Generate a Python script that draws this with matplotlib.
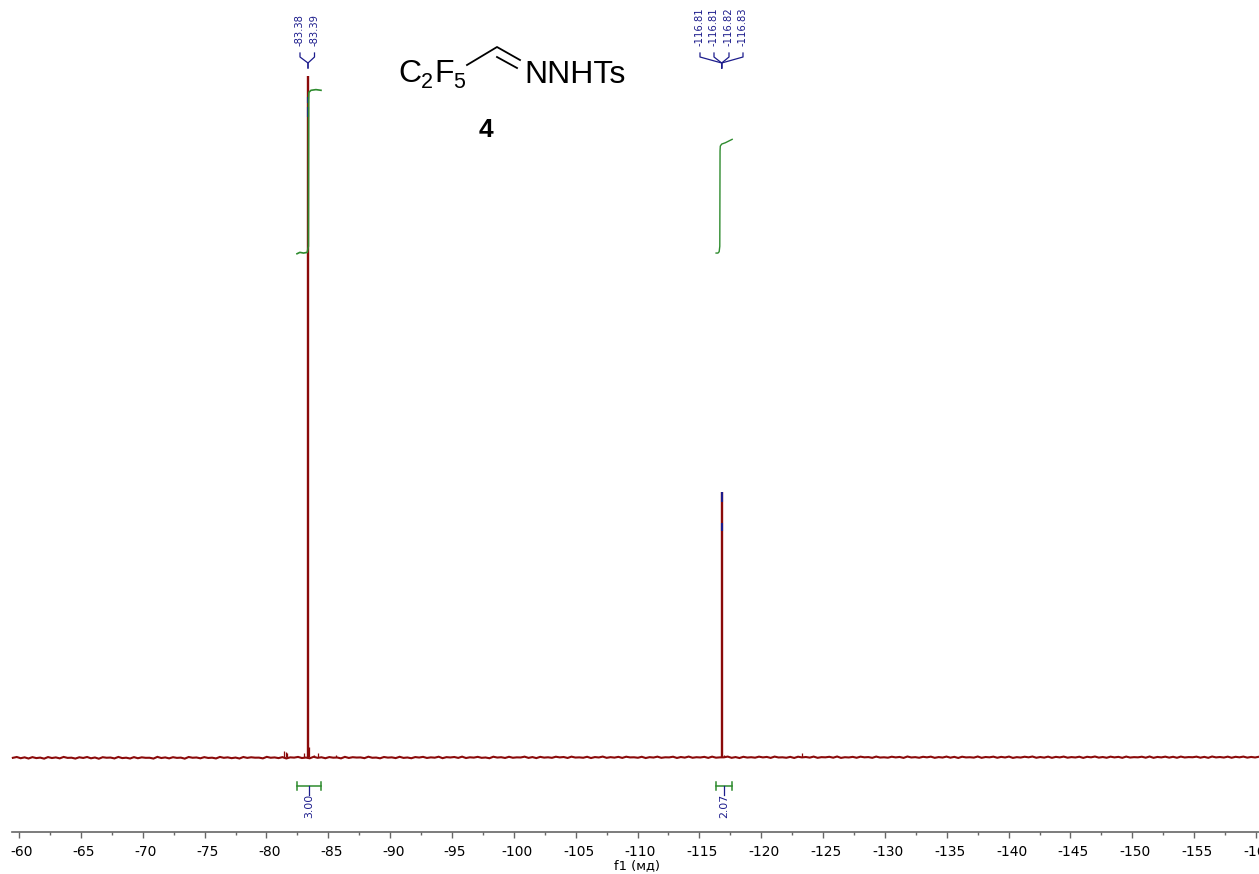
import matplotlib
matplotlib.use('Agg')
import matplotlib.pyplot as plt
from matplotlib.lines import Line2D
from matplotlib.transforms import Affine2D, ScaledTranslation
import numpy as np

# baseline of the 19F spectrum (left to right)
noise = [-.12, .00, -.18, -.05, -.22, -.02, -.16, -.09, -.24, -.01, -.15, -.06, -.20, .01, -.13, -.10,
         -.23, -.04, -.14, .00, -.19, -.07, -.25, -.03, -.11, -.08, -.21, .01, -.16, -.10, -.22, -.02,
         -.18, -.05, -.12, -.11, -.23, .02, -.15, -.06, -.20, -.03, -.13, -.09, -.24, .00, -.11, -.07,
         -.19, -.02, -.14, -.10, -.21, .01, -.12, -.05, -.17, -.08, -.22, .00, -.13, -.04, -.10, -.09,
         -.20, .02, -.11, -.06, -.16, -.02, -.21, -.05, -.09, .01, -.15, -.08, -.19, .03, -.12, -.04,
         -.18, -.01, -.10, -.07, -.20, .02, -.14, -.03, -.08, -.06, -.17, .04, -.11, -.08, -.19, .00,
         -.09, -.05, -.16, .03, -.13, -.07, -.18, -.01, -.08, .02, -.14, -.05, -.10, .04, -.17, -.02,
         -.07, .00, -.13, .05, -.15, -.04, -.09, .02, -.12, -.07, -.18, .04, -.08, -.03, -.14, .03,
         -.11, -.05, -.07, .05, -.13, -.01, -.16, .02, -.09, -.04, -.12, .04, -.06, .00, -.14, .05,
         -.08, -.05, -.11, .03, -.15, -.01, -.07, .06, -.12, -.02, -.09, .02, -.13, .04, -.06, -.04,
         -.11, .03, -.15, -.02, -.08, .05, -.12, -.04, -.06, .04, -.14, .00, -.09, .06, -.11, -.03,
         -.07, .02, -.13, .05, -.10, -.05, -.05, .06, -.12, -.01, -.15, .03, -.08, -.03, -.10, .05,
         -.06, .01, -.13, .06, -.07, -.04, -.11, .02, -.14, .04, -.06, .00, -.09, .06, -.12, -.02,
         -.05, .03, -.10, .07, -.13, -.03, -.07, .02, -.11, .05, -.05, -.01, -.12, .06, -.08, -.04,
         -.10, .04, -.06, .01, -.13, .07, -.07, -.02, -.11, .03, -.05, .05, -.12, -.01, -.08, .06,
         -.10, .02, -.14, .04, -.06, -.03, -.09, .07, -.12, .00, -.05, .05, -.11, .02, -.07, .06,
         -.13, -.02, -.08, .04, -.05, .07, -.11, .00, -.09, .05, -.12, .02, -.06, .06, -.10, -.01,
         -.07, .04, -.13, .03, -.05, .07, -.09, .00, -.11, .05, -.06, .02, -.12, .06, -.08, -.02,
         -.05, .04, -.10, .07, -.12, .01, -.06, .05, -.09, .03, -.11, .06, -.07, -.01, -.04, .05,
         -.10, .02, -.12, .07, -.06, .00, -.08, .05, -.11, .03, -.05, .06, -.09, .01, -.07, .04]
noise_ppm = np.linspace(-59.5, -160.24, len(noise))

peak_ppm = [-83.385, -116.82]
peak_height = [100, 38.9]
small_ppm = [-81.45, -81.6, -81.7, -83.0, -83.47, -83.85, -84.2, -85.6, -116.95, -123.3]
small_height = [.85, .75, .65, .55, 1.5, .3, .65, .3, .35, .65]

# blue parts of the multiplet lines (low, high)
blue_ppm = [-83.385, -83.385, -116.82, -116.82]
blue_low = [94.0, 96.0, 33.2, 37.4]
blue_high = [95.4, 96.9, 34.3, 38.9]

int1_ppm = [-82.47, -82.7, -83.0, -83.3, -83.39, -83.41, -83.43, -83.6, -84.0, -84.41]
int1_val = [73.9, 74.1, 74.0, 74.1, 75.0, 96.5, 97.6, 97.9, 98.0, 97.9]
int2_ppm = [-116.35, -116.5, -116.6, -116.65, -116.67, -116.69, -116.8, -117.1, -117.65]
int2_val = [74.0, 74.0, 74.2, 75.0, 89.0, 89.7, 90.0, 90.2, 90.7]

int_ranges = [(-82.47, -84.41), (-116.35, -117.65)]
int_labels = ['3.00', '2.07']
labels1 = ['-83.38', '-83.39']
labels2 = ['-116.81', '-116.81', '-116.82', '-116.83']
ticks = np.arange(-60, -161, -5)

red = '#8b0a0a'
green = '#2e8b2e'
navy = '#1c1c8c'
grey = '#666666'

fig = plt.figure(figsize=(12.59, 8.74), dpi=100)
ax = fig.add_axes([0, 0, 1, 1])
ax.patch.set_visible(False)
ax.set_xlim(-58.46, -160.24)
ax.set_ylim(-17.18, 111.16)

# pixel coordinates from the top left, for the annotations
px = Affine2D().scale(1, -1).translate(0, 874)

ax.plot(noise_ppm, noise, color=red, lw=1.5, solid_joinstyle='miter', zorder=2)
ax.vlines(small_ppm, 0, small_height, color=red, lw=0.9, zorder=2)
ax.vlines(peak_ppm, 0, peak_height, color=red, lw=1.7, zorder=3)
ax.vlines(blue_ppm, blue_low, blue_high, color=navy, lw=1.5, zorder=4)

ax.plot(int1_ppm, int1_val, color=green, lw=1.2, zorder=5)
ax.plot(int2_ppm, int2_val, color=green, lw=1.0, zorder=5)

for s in ['top', 'left', 'right']:
    ax.spines[s].set_visible(False)
ax.spines['bottom'].set_position(('data', (757 - 832) / 6.81))
ax.spines['bottom'].set_bounds(-59.4, -160.24)
ax.spines['bottom'].set_color(grey)
ax.spines['bottom'].set_linewidth(1.2)
ax.set_yticks([])
ax.set_xticks(ticks)
ax.set_xticklabels([str(t) for t in ticks], fontsize=10)
ax.set_xticks(ticks[:-1] - 2.5, minor=True)
ax.tick_params(axis='x', which='major', length=4.5, width=1, color=grey, pad=5)
ax.tick_params(axis='x', which='minor', length=2.4, width=1, color=grey)
# tick labels sit a little right of their ticks
shift = ScaledTranslation(3 / 100, 0, fig.dpi_scale_trans)
for lab in ax.get_xticklabels():
    lab.set_transform(lab.get_transform() + shift)
fig.text(637, 866, 'f1 (мд)', transform=px, fontsize=9.4, ha='center', va='center')

# integration brackets
for (a, b), lab in zip(int_ranges, int_labels):
    xa = 19 + (-60 - a) * 12.37
    xb = 19 + (-60 - b) * 12.37
    xm = (xa + xb) / 2
    fig.add_artist(Line2D([xa, xb], [786, 786], transform=px, color=green, lw=1.1))
    fig.add_artist(Line2D([xa, xa], [782, 790], transform=px, color=green, lw=1.1))
    fig.add_artist(Line2D([xb, xb], [782, 790], transform=px, color=green, lw=1.1))
    fig.add_artist(Line2D([xm, xm], [786, 795], transform=px, color=navy, lw=0.9))
    fig.text(xm + 0.5, 806, lab, transform=px, color=navy, fontsize=7.8, rotation=90, ha='center', va='center')

# peak labels with their fans
def fan(xs, labs, xc):
    for x, lab in zip(xs, labs):
        fig.text(x, 46, lab, transform=px, color=navy, fontsize=7.2, rotation=90, ha='center', va='bottom')
        fig.add_artist(Line2D([x, x, xc, xc], [53, 57, 63, 68], transform=px, color=navy, lw=0.9))

fan([300, 314.5], labels1, 308)
fan([700, 714, 729, 743], labels2, 721.7)

# structure
sans = 'Liberation Sans'
fig.text(398, 82, 'C', transform=px, family=sans, fontsize=23, ha='left', va='baseline')
fig.text(421, 88.5, '2', transform=px, family=sans, fontsize=15.5, ha='left', va='baseline')
fig.text(434, 82, 'F', transform=px, family=sans, fontsize=23, ha='left', va='baseline')
fig.text(453, 88.5, '5', transform=px, family=sans, fontsize=15.5, ha='left', va='baseline')
fig.text(524, 83, 'NNHTs', transform=px, family=sans, fontsize=23, ha='left', va='baseline')
fig.text(486, 130, '4', transform=px, family=sans, fontsize=19, fontweight='bold', ha='center', va='center')
fig.add_artist(Line2D([467, 497, 520], [65, 47, 60], transform=px, color='black', lw=1.3))
fig.add_artist(Line2D([497, 517], [57, 68], transform=px, color='black', lw=1.3))

fig.savefig('out.png', dpi=100)
